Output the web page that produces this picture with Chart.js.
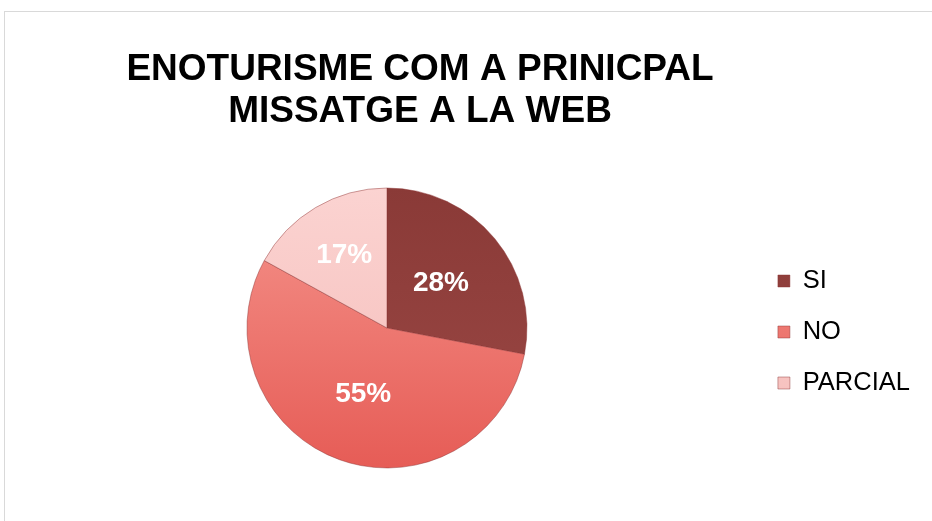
<!DOCTYPE html>
<html>
<head>
<meta charset="utf-8">
<script src="https://cdn.jsdelivr.net/npm/chart.js@4.4.1/dist/chart.umd.min.js"></script>
<style>
  html, body { margin: 0; padding: 0; background: #ffffff; overflow: hidden; }
  #frame { position: absolute; left: 4px; top: 11px; width: 1000px; height: 600px;
           border-left: 1px solid #d9d9d9; border-top: 1px solid #d9d9d9; }
  #c { position: absolute; left: 0; top: 0; }
</style>
</head>
<body>
<div id="frame"></div>
<canvas id="c" width="932" height="521"></canvas>
<script>
// ---- data ----
const titleLines = ['ENOTURISME COM A PRINICPAL', 'MISSATGE A LA WEB'];
const categories = ['SI', 'NO', 'PARCIAL'];
const percentages = [28, 55, 17];

// ---- styles ----
const FONT = '"Liberation Sans", Arial, Helvetica, sans-serif';
const sliceGradients = [
  ['#8a3a37', '#9b4845'],
  ['#f5948c', '#e65c56'],
  ['#fbd3d1', '#f5bcb9']
];
const labelRadiusFactors = [0.5, 0.5, 0.6];

function sliceColor(ctx) {
  const chart = ctx.chart;
  const area = chart.chartArea;
  const i = ctx.dataIndex;
  const pair = sliceGradients[i] || sliceGradients[0];
  if (!area) return pair[0];
  const g = chart.ctx.createLinearGradient(0, area.top, 0, area.bottom);
  g.addColorStop(0, pair[0]);
  g.addColorStop(1, pair[1]);
  return g;
}

const pctLabels = {
  id: 'pctLabels',
  afterDatasetsDraw(chart) {
    const ctx = chart.ctx;
    const meta = chart.getDatasetMeta(0);
    ctx.save();
    ctx.font = 'bold 28px ' + FONT;
    ctx.fillStyle = '#ffffff';
    ctx.textAlign = 'center';
    ctx.textBaseline = 'middle';
    meta.data.forEach((arc, i) => {
      const p = arc.getProps(['x', 'y', 'startAngle', 'endAngle', 'outerRadius'], true);
      const mid = (p.startAngle + p.endAngle) / 2;
      const r = p.outerRadius * labelRadiusFactors[i];
      ctx.fillText(percentages[i] + '%', p.x + Math.cos(mid) * r, p.y + Math.sin(mid) * r);
    });
    ctx.restore();
  }
};

new Chart(document.getElementById('c'), {
  type: 'pie',
  data: {
    labels: categories,
    datasets: [{
      data: percentages,
      backgroundColor: sliceColor,
      borderColor: 'rgba(140,50,50,0.45)',
      borderWidth: 1,
      hoverOffset: 0
    }]
  },
  options: {
    responsive: false,
    devicePixelRatio: 1,
    animation: false,
    events: [],
    layout: { padding: { left: -79.9, right: 12.1, top: 0, bottom: 52.5 } },
    plugins: {
      tooltip: { enabled: false },
      title: {
        display: true,
        text: titleLines,
        color: '#000000',
        font: { family: FONT, size: 37, weight: 'bold', lineHeight: 42 / 37 },
        padding: { top: 48.5, bottom: 55 }
      },
      subtitle: {
        display: true,
        position: 'left',
        fullSize: false,
        text: ' ',
        font: { size: 10, lineHeight: 1 },
        padding: { top: 0, bottom: 91.4 }
      },
      legend: {
        display: true,
        position: 'right',
        fullSize: false,
        align: 'center',
        title: { display: true, text: ' ', font: { size: 8, lineHeight: 1 }, padding: 0 },
        labels: {
          color: '#000000',
          font: { family: FONT, size: 25.5 },
          boxWidth: 12,
          boxHeight: 12,
          padding: 25.5
        }
      }
    }
  },
  plugins: [pctLabels]
});
</script>
</body>
</html>
